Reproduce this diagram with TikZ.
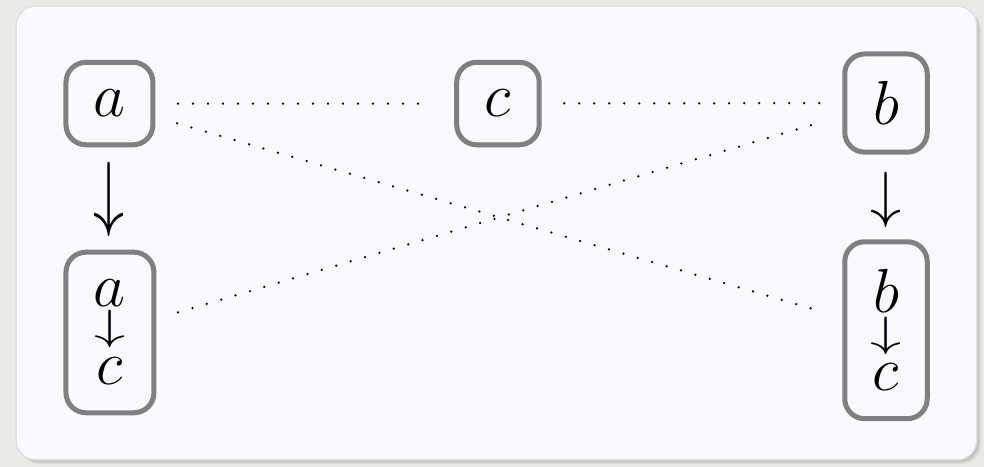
\documentclass[tikz,border=0pt]{standalone}
\usepackage{amsmath,graphicx}
\usetikzlibrary{positioning,fit}
\definecolor{slatebg}{HTML}{ECEAE6}
\definecolor{cardfill}{HTML}{F9F9FE}
\definecolor{boxgray}{HTML}{808080}
\tikzset{
  bigmath/.style={font=\fontsize{23}{28}\selectfont},
  varbox/.style={bigmath,draw=boxgray,line width=2pt,rounded corners=8pt,
                 minimum width=33pt,minimum height=33pt,inner sep=11pt},
  glyph/.style={bigmath,inner sep=0},
  dotlink/.style={line width=1pt,line cap=round,dash pattern=on 0pt off 6pt,
                  shorten <=9pt,shorten >=9pt},
}
% stretched / squashed down arrows
\newcommand{\longdown}{\scalebox{1}[1.35]{$\downarrow$}}
\newcommand{\shortdown}{\scalebox{1}[0.68]{$\downarrow$}}

\begin{document}
\begin{tikzpicture}
  % slide background and card
  \fill[slatebg] (0,0) rectangle (13.834,6.565);
  \useasboundingbox (0,0) rectangle (13.834,6.565);
  \foreach \d/\o in {0.06/0.05,0.04/0.07,0.02/0.1}
    \fill[black,opacity=\o,rounded corners=8pt] (0.225+\d,0.098-\d) rectangle (13.735+\d,6.481-\d);
  \filldraw[fill=cardfill,draw=black!12,line width=0.6pt,rounded corners=8pt]
    (0.225,0.098) rectangle (13.735,6.481);

  % top row
  \node[varbox] (a) at (1.539,5.109) {$a$};
  \node[varbox] (c) at (7.001,5.109) {$c$};
  \node[varbox] (b) at (12.456,5.116) {$b$};

  % bottom row: stacks
  \node[glyph,anchor=base] (acTop) at (1.546,2.249) {$a$};
  \node[glyph,below=20pt of acTop] (acBot) {$c$};
  \node[glyph,anchor=base] (acArrow) at (1.546,1.785) {\shortdown};
  \node[varbox,fit=(acTop)(acBot)] (ac) {};

  \node[glyph,anchor=base] (bcTop) at (12.456,2.165) {$b$};
  \node[glyph,below=20pt of bcTop] (bcBot) {$c$};
  \node[glyph,anchor=base] (bcArrow) at (12.456,1.687) {\shortdown};
  \node[varbox,fit=(bcTop)(bcBot)] (bc) {};

  % arrows down to the stacks
  \node[glyph] (aArrow) at (1.532,3.759) {\longdown};
  \node[glyph] (bArrow) at (12.456,3.759) {$\downarrow$};

  % dotted links
  \draw[dotlink] (a) -- (c);
  \draw[dotlink] (c) -- (b);
  \draw[dotlink] (a) -- (bc);
  \draw[dotlink] (ac) -- (b);
\end{tikzpicture}
\end{document}
